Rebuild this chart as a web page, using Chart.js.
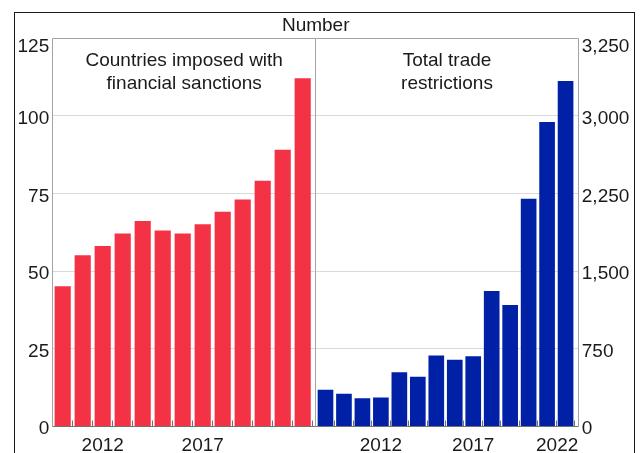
<!DOCTYPE html>
<html>
<head>
<meta charset="utf-8">
<title>Sanctions and trade restrictions</title>
<script src="https://cdn.jsdelivr.net/npm/chart.js@4.4.1/dist/chart.umd.min.js"></script>
<style>
  html, body { margin: 0; padding: 0; background: #fff; }
  #wrap { position: relative; width: 640px; height: 453px; overflow: hidden; }
  #wrap canvas { position: absolute; left: 0; top: 0; }
  #frame {
    position: absolute; left: 14px; top: 12px;
    width: 619px; height: 470px;
    border: 1px solid #1a1a1a;
  }
</style>
</head>
<body>
<div id="wrap">
  <div id="frame"></div>
  <canvas id="sanctions-chart" width="640" height="453"></canvas>
  <canvas id="trade-chart" width="640" height="453"></canvas>
</div>
<script>
const FONT = '19px "Liberation Sans", Arial, sans-serif';
const TEXT_COLOR = "#1a1a1a";
const GRID_COLOR = "#d9d9d9";
const FRAME_COLOR = "#a3a3a3";
const AXIS_COLOR = "#737373";

// left panel: countries imposed with financial sanctions
const sanctionYears = [2010, 2011, 2012, 2013, 2014, 2015, 2016, 2017, 2018, 2019, 2020, 2021, 2022];
const sanctionCounts = [45, 55, 58, 62, 66, 63, 62, 65, 69, 73, 79, 89, 112];
const sanctionYearLabels = [2012, 2017];
const sanctionTickValues = [0, 25, 50, 75, 100, 125];
const sanctionTickLabels = ["0", "25", "50", "75", "100", "125"];
const sanctionTitle = ["Countries imposed with", "financial sanctions"];

// right panel: total trade restrictions
const tradeYears = [2009, 2010, 2011, 2012, 2013, 2014, 2015, 2016, 2017, 2018, 2019, 2020, 2021, 2022];
const tradeRestrictions = [351, 312, 267, 276, 518, 476, 682, 641, 673, 1305, 1169, 2197, 2938, 3334];
const tradeYearLabels = [2012, 2017, 2022];
const tradeTickValues = [0, 750, 1500, 2250, 3000, 3750];
// the source chart prints 3,250 on the top gridline
const tradeTickLabels = ["0", "750", "1,500", "2,250", "3,000", "3,250"];
const tradeTitle = ["Total trade", "restrictions"];

const heading = "Number";

function crisp(v) {
  return Math.round(v - 0.5) + 0.5;
}

function panelPlugin(cfg) {
  return {
    id: "panel",
    afterDraw(chart) {
      const { ctx, chartArea: a, scales } = chart;
      const xs = scales.x;
      const ys = scales.y;
      const left = crisp(a.left);
      const right = crisp(a.right);
      const top = crisp(a.top);
      const bottom = crisp(a.bottom);

      ctx.save();
      ctx.lineWidth = 1;

      // plot frame
      ctx.strokeStyle = FRAME_COLOR;
      ctx.beginPath();
      if (cfg.side === "left") {
        ctx.moveTo(left, bottom);
        ctx.lineTo(left, top);
      } else {
        ctx.moveTo(left, top);
      }
      ctx.lineTo(right, top);
      ctx.lineTo(right, bottom);
      ctx.stroke();

      // x axis line and year tick marks
      ctx.strokeStyle = AXIS_COLOR;
      ctx.beginPath();
      ctx.moveTo(left, bottom);
      ctx.lineTo(right, bottom);
      cfg.years.forEach((yr) => {
        const px = xs.getPixelForValue(yr + 0.5);
        if (px < a.right - 0.5) {
          ctx.moveTo(crisp(px), bottom);
          ctx.lineTo(crisp(px), bottom - 6);
        }
      });
      ctx.stroke();

      ctx.fillStyle = TEXT_COLOR;
      ctx.font = FONT;
      ctx.textBaseline = "alphabetic";

      // y tick labels
      ctx.textAlign = cfg.side === "left" ? "right" : "left";
      const lx = cfg.side === "left" ? a.left - 3.5 : a.right + 3.5;
      cfg.tickValues.forEach((v, i) => {
        const py = Math.max(ys.getPixelForValue(v) + 8, a.top + 14);
        ctx.fillText(cfg.tickLabels[i], lx, py);
      });

      // x year labels, kept inside the panel
      ctx.textAlign = "center";
      cfg.yearLabels.forEach((yr) => {
        const text = String(yr);
        const half = ctx.measureText(text).width / 2;
        let px = xs.getPixelForValue(yr);
        px = Math.min(Math.max(px, a.left + half), a.right - half);
        ctx.fillText(text, px, a.bottom + 24.4);
      });

      // panel title
      const cx = (a.left + a.right) / 2;
      cfg.title.forEach((line, i) => {
        ctx.fillText(line, cx, a.top + 27.4 + i * 23.3);
      });

      if (cfg.heading) {
        ctx.fillText(cfg.heading, a.right, a.top - 7.6);
      }
      ctx.restore();
    },
  };
}

function makeChart(id, cfg) {
  return new Chart(document.getElementById(id), {
    type: "bar",
    data: {
      datasets: [
        {
          data: cfg.years.map((yr, i) => ({ x: yr, y: cfg.values[i] })),
          backgroundColor: cfg.color,
          borderWidth: 0,
          barThickness: cfg.barWidth,
        },
      ],
    },
    options: {
      responsive: false,
      animation: false,
      layout: { padding: cfg.padding },
      plugins: {
        legend: { display: false },
        tooltip: { enabled: false },
      },
      scales: {
        x: {
          type: "linear",
          display: false,
          offset: false,
          min: cfg.xMin,
          max: cfg.xMax,
        },
        y: {
          position: cfg.side,
          min: 0,
          max: cfg.tickValues[cfg.tickValues.length - 1],
          afterBuildTicks: (scale) => {
            scale.ticks = cfg.tickValues.map((v) => ({ value: v }));
          },
          afterFit: (scale) => {
            scale.width = 0;
          },
          ticks: { display: false },
          border: { display: false },
          grid: { color: GRID_COLOR, drawTicks: false },
        },
      },
    },
    plugins: [panelPlugin(cfg)],
  });
}

makeChart("sanctions-chart", {
  side: "left",
  years: sanctionYears,
  values: sanctionCounts,
  yearLabels: sanctionYearLabels,
  tickValues: sanctionTickValues,
  tickLabels: sanctionTickLabels,
  title: sanctionTitle,
  heading: heading,
  color: "#f33345",
  barWidth: 15.5,
  xMin: 2009.5,
  xMax: 2022.65,
  padding: { left: 52.7, top: 38.3, right: 324.3, bottom: 26.7 },
});

makeChart("trade-chart", {
  side: "right",
  years: tradeYears,
  values: tradeRestrictions,
  yearLabels: tradeYearLabels,
  tickValues: tradeTickValues,
  tickLabels: tradeTickLabels,
  title: tradeTitle,
  color: "#0021a6",
  barWidth: 15,
  xMin: 2008.47,
  xMax: 2022.69,
  padding: { left: 315.7, top: 38.3, right: 61.7, bottom: 26.7 },
});
</script>
</body>
</html>
